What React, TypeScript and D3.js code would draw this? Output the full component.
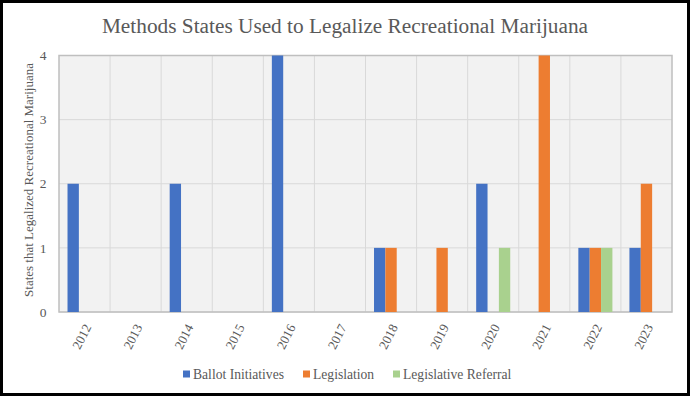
import { useEffect, useRef } from "react";
import * as d3 from "d3";

const years = ["2012", "2013", "2014", "2015", "2016", "2017", "2018", "2019", "2020", "2021", "2022", "2023"];
const ballotInitiatives = [2, 0, 2, 0, 4, 0, 1, 0, 2, 0, 1, 1];
const legislation = [0, 0, 0, 0, 0, 0, 1, 1, 0, 4, 1, 2];
const legislativeReferral = [0, 0, 0, 0, 0, 0, 0, 0, 1, 0, 1, 0];
const seriesNames = ["Ballot Initiatives", "Legislation", "Legislative Referral"];
const seriesColors = ["#4472C4", "#ED7D31", "#A9D18E"];
const yTicks = [0, 1, 2, 3, 4];

const App = () => {
  const svgRef = useRef<SVGSVGElement>(null);

  useEffect(() => {
    document.body.style.margin = "0";
    const svg = d3.select(svgRef.current);
    svg.selectAll("*").remove();

    const width = 690;
    const height = 396;
    const margin = { top: 55.5, right: 18, bottom: 84, left: 59 };
    const font = "Liberation Serif";
    const textColor = "#595959";

    svg.attr("width", width).attr("height", height).style("font-family", font);

    // White background + black frame
    svg.append("rect").attr("width", width).attr("height", height).attr("fill", "#fff");
    svg
      .append("rect")
      .attr("x", 1.5)
      .attr("y", 1.5)
      .attr("width", width - 3)
      .attr("height", height - 3)
      .attr("fill", "none")
      .attr("stroke", "#000")
      .attr("stroke-width", 3);

    const x0 = d3
      .scaleBand()
      .domain(years)
      .range([margin.left, width - margin.right]);

    const series = [ballotInitiatives, legislation, legislativeReferral];
    const barW = x0.bandwidth() / (3 + 1.5);
    const x1 = d3
      .scaleBand()
      .domain(seriesNames)
      .range([0, barW * 3]);

    const y = d3
      .scaleLinear()
      .domain([0, 4])
      .range([height - margin.bottom, margin.top]);

    // Plot background
    svg
      .append("rect")
      .attr("x", margin.left)
      .attr("y", margin.top)
      .attr("width", width - margin.left - margin.right)
      .attr("height", y(0) - margin.top)
      .attr("fill", "#F2F2F2");

    // Horizontal gridlines
    svg
      .append("g")
      .selectAll("line")
      .data(yTicks)
      .join("line")
      .attr("x1", margin.left)
      .attr("x2", width - margin.right)
      .attr("y1", (d) => y(d))
      .attr("y2", (d) => y(d))
      .attr("stroke", "#D9D9D9")
      .attr("stroke-width", 1);

    // Vertical gridlines between categories
    svg
      .append("g")
      .selectAll("line")
      .data(years.slice(1))
      .join("line")
      .attr("x1", (d) => x0(d)!)
      .attr("x2", (d) => x0(d)!)
      .attr("y1", margin.top)
      .attr("y2", y(0))
      .attr("stroke", "#D9D9D9")
      .attr("stroke-width", 1);

    // Plot border
    svg
      .append("rect")
      .attr("x", margin.left)
      .attr("y", margin.top)
      .attr("width", width - margin.left - margin.right)
      .attr("height", y(0) - margin.top)
      .attr("fill", "none")
      .attr("stroke", "#BFBFBF")
      .attr("stroke-width", 1.5);

    // Bars
    series.forEach((values, si) => {
      svg
        .append("g")
        .selectAll("rect")
        .data(values.map((v, i) => ({ year: years[i], v })).filter((d) => d.v > 0))
        .join("rect")
        .attr("x", (d) => x0(d.year)! + barW * 0.75 + x1(seriesNames[si])!)
        .attr("y", (d) => y(d.v))
        .attr("width", x1.bandwidth())
        .attr("height", (d) => y(0) - y(d.v))
        .attr("fill", seriesColors[si]);
    });

    // Y tick labels
    svg
      .append("g")
      .selectAll("text")
      .data(yTicks)
      .join("text")
      .attr("x", 46.5)
      .attr("y", (d) => y(d))
      .attr("dy", "0.35em")
      .attr("text-anchor", "end")
      .attr("font-size", 13.5)
      .attr("fill", textColor)
      .text((d) => d);

    // X tick labels (rotated)
    svg
      .append("g")
      .selectAll("text")
      .data(years)
      .join("text")
      .attr(
        "transform",
        (d) => `translate(${x0(d)! + x0.bandwidth() / 2 + 3},${y(0) + 13}) rotate(-63)`
      )
      .attr("text-anchor", "end")
      .attr("dy", "0.35em")
      .attr("font-size", 13)
      .attr("fill", textColor)
      .text((d) => d);

    // Title
    svg
      .append("text")
      .attr("x", width / 2)
      .attr("y", 33)
      .attr("text-anchor", "middle")
      .attr("font-size", 21.3)
      .attr("fill", textColor)
      .text("Methods States Used to Legalize Recreational Marijuana");

    // Y axis title
    svg
      .append("text")
      .attr("transform", `translate(33,180) rotate(-90)`)
      .attr("text-anchor", "middle")
      .attr("font-size", 13)
      .attr("fill", textColor)
      .text("States that Legalized Recreational Marijuana");

    // Legend
    const legendX = [183, 303, 393];
    const legend = svg
      .append("g")
      .selectAll("g")
      .data(seriesNames)
      .join("g")
      .attr("transform", (d, i) => `translate(${legendX[i]},374)`);
    legend
      .append("rect")
      .attr("x", 0)
      .attr("y", -3.5)
      .attr("width", 7)
      .attr("height", 7)
      .attr("fill", (d, i) => seriesColors[i]);
    legend
      .append("text")
      .attr("x", 10)
      .attr("y", 0)
      .attr("dy", "0.35em")
      .attr("font-size", 13.6)
      .attr("fill", textColor)
      .text((d) => d);
  }, []);

  return <svg ref={svgRef}></svg>;
};

export default App;
